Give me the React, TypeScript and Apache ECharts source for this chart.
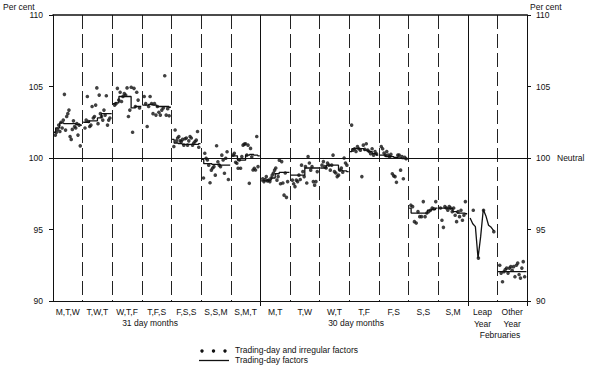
import React, { useEffect, useRef } from "react";
import * as echarts from "echarts";

const FONT = "'Liberation Sans', Arial, Helvetica, sans-serif";
const INK = "#111";

// Category (day-composition) labels along the bottom axis
const categories = [
  "M,T,W", "T,W,T", "W,T,F", "T,F,S", "F,S,S", "S,S,M", "S,M,T",
  "M,T", "T,W", "W,T", "T,F", "F,S", "S,S", "S,M",
  "Leap\nYear", "Other\nYear",
];
const groupLabels = ["31 day months", "30 day months", "Februaries"];
const yTicks = [90, 95, 100, 105, 110];

// Trading-day and irregular factors (dots), per category, left to right
const dotsMTW = [101.6, 101.8, 102.0, 102.3, 101.85, 102.5, 102.1, 102.65, 104.45, 101.95, 102.9, 103.1, 103.35, 101.5, 101.3, 102.0, 102.6, 102.2, 102.1, 102.4, 101.6, 102.3, 100.85];
const dotsTWT = [102.1, 102.65, 104.3, 102.55, 102.2, 102.3, 103.6, 102.8, 102.9, 103.7, 104.9, 102.4, 104.4, 103.1, 102.9, 102.65, 103.35, 103.0, 104.35, 102.3, 102.65, 102.8];
const dotsWTF = [103.7, 103.8, 104.87, 104.05, 104.6, 103.95, 104.3, 104.5, 104.4, 104.9, 102.9, 103.35, 104.95, 101.8, 104.87, 103.6, 104.6, 104.05, 103.5];
const dotsTFS = [104.3, 103.8, 102.2, 103.6, 104.3, 103.8, 103.1, 103.8, 103.0, 103.6, 103.2, 103.0, 103.35, 103.5, 105.75, 103.0, 103.45, 102.95];
const dotsFSS = [100.8, 101.96, 101.2, 101.4, 101.5, 101.2, 101.15, 101.3, 100.9, 101.35, 101.4, 100.9, 101.2, 101.5, 101.4, 100.9, 101.05, 101.15, 101.25, 101.85, 100.75];
const dotsSSM = [98.6, 100.33, 99.98, 99.86, 99.5, 98.27, 99.15, 99.3, 99.4, 98.8, 100.86, 99.74, 99.5, 99.4, 100.2, 99.86, 98.93, 99.98, 100.44, 98.5];
const dotsSMT = [100.2, 100.33, 99.7, 99.63, 99.28, 99.86, 99.28, 100.1, 100.9, 100.97, 101.0, 100.2, 100.9, 98.23, 100.67, 100.09, 99.16, 99.28, 99.16, 101.5, 99.4];
const dotsMT = [98.55, 98.35, 98.5, 98.7, 98.4, 98.45, 98.35, 98.6, 98.8, 98.95, 99.15, 99.3, 98.45, 98.7, 99.85, 98.2, 99.75, 98.25, 97.4, 98.95, 97.25, 98.35];
const dotsTW = [98.45, 98.2, 98.0, 98.45, 98.35, 98.8, 98.5, 99.5, 99.05, 98.7, 99.4, 98.25, 100.1, 99.65, 99.15, 99.4, 98.35, 98.1, 98.35, 99.05];
const dotsWT = [99.5, 99.75, 99.4, 99.3, 99.65, 99.5, 99.15, 99.5, 100.2, 99.05, 98.95, 98.7, 98.8, 99.15, 99.3, 99.0, 100.0, 99.65, 99.5];
const dotsTF = [102.3, 100.55, 100.65, 100.45, 100.8, 100.65, 100.55, 98.7, 100.9, 100.6, 101.0, 100.55, 100.45, 100.3, 100.65, 100.2, 100.45, 100.3];
const dotsFS = [100.8, 100.65, 100.35, 100.2, 100.45, 100.2, 100.1, 100.25, 98.9, 98.75, 98.7, 98.3, 100.2, 100.2, 99.15, 100.1, 98.55, 100.05, 99.95];
const dotsSS = [96.7, 96.6, 95.55, 95.45, 96.25, 95.9, 95.9, 96.95, 95.9, 96.15, 96.25, 96.35, 96.5, 96.45, 96.95];
const dotsSM = [96.5, 95.65, 95.15, 96.6, 96.5, 96.35, 96.6, 96.5, 96.25, 96.5, 96.0, 95.55, 96.25, 95.9, 96.35, 95.65, 96.0, 96.95];
const dotsLeap = [null, 96.35, null, 93.0, null, 96.35, null, null, null, 94.85];
const dotsOther = [92.5, 91.95, 91.35, 92.05, 92.2, 92.3, 91.95, 92.3, 92.4, 92.15, 92.4, 91.7, 92.5, 92.65, 91.85, 91.6, 92.3, 92.75, 91.7];

// Trading-day factors (line), per category
const lineMTW = [101.8, 102.1, 102.45, 102.4, 102.4, 102.4, 102.35, 102.3];
const lineTWT = [102.5, 102.5, 102.6, 102.6, 102.8, 103.1, 103.1, 103.1];
const lineWTF = [103.8, 103.85, 104.3, 104.3, 104.3, 103.5, 103.6, 103.6];
const lineTFS = [103.7, 103.7, 103.75, 103.7, 103.6, 103.6, 103.6, 103.55];
const lineFSS = [101.3, 101.05, 101.0, 100.95, 100.95, 100.95, 100.95, 101.0];
const lineSSM = [99.9, 99.6, 99.6, 99.55, 99.55, 99.5, 99.5, 99.5];
const lineSMT = [100.15, 100.15, 99.85, 99.85, 100.2, 100.25, 100.2, 100.15];
const lineMT = [98.4, 98.4, 98.45, 98.6, 98.9, 99.0, 99.0, 99.0];
const lineTW = [98.8, 98.8, 98.8, 98.8, 99.3, 99.3, 99.3, 99.3];
const lineWT = [99.3, 99.3, 99.5, 99.5, 99.5, 99.15, 99.1, 99.05];
const lineTF = [100.45, 100.65, 100.65, 100.65, 100.55, 100.45, 100.3, 100.2];
const lineFS = [100.2, 100.2, 100.1, 100.1, 100.05, 100.0, 99.95, 99.95];
const lineSS = [96.5, 96.15, 96.15, 96.15, 96.15, 96.35, 96.4, 96.5];
const lineSM = [96.5, 96.5, 96.5, 96.45, 96.25, 96.15, 96.15, 96.1];
const lineLeap = [95.8, 95.4, 95.2, 93.0, 94.5, 96.4, 95.95, 95.3, 95.15, 94.9];
const lineOther = [92.05, 92.05, 92.05, 92.05, 92.05, 92.05, 92.05, 92.05];

const dotSets = [dotsMTW, dotsTWT, dotsWTF, dotsTFS, dotsFSS, dotsSSM, dotsSMT, dotsMT, dotsTW, dotsWT, dotsTF, dotsFS, dotsSS, dotsSM, dotsLeap, dotsOther];
const lineSets = [lineMTW, lineTWT, lineWTF, lineTFS, lineFSS, lineSSM, lineSMT, lineMT, lineTW, lineWT, lineTF, lineFS, lineSS, lineSM, lineLeap, lineOther];
const LEAP = 14;

function spread(c: number, n: number, a: number, b: number, i: number) {
  return n <= 1 ? c + 0.5 : c + a + (b - a) * (i / (n - 1));
}

function buildOption() {
  const scatterData: number[][] = [];
  dotSets.forEach((vals, c) => {
    const isLeap = c === LEAP;
    vals.forEach((v, i) => {
      if (v == null) return;
      const x = isLeap ? spread(c, vals.length, 0.1, 0.88, i) : spread(c, vals.length, 0.08, 0.92, i);
      scatterData.push([x, v as number]);
    });
  });

  const lineSeries = lineSets.map((vals, c) => {
    const isLeap = c === LEAP;
    return {
      type: "line",
      xAxisIndex: 1,
      yAxisIndex: 0,
      step: isLeap ? false : "middle",
      symbol: "none",
      silent: true,
      lineStyle: { color: INK, width: 1.3 },
      data: vals.map((v, i) => [
        isLeap ? spread(c, vals.length, 0.08, 0.88, i) : spread(c, vals.length, 0.02, 0.98, i),
        v,
      ]),
      z: 3,
    };
  });

  const textStyle = { fontFamily: FONT, fontSize: 8.5, fill: INK };

  return {
    animation: false,
    grid: { left: 53, right: 64, top: 15, bottom: 67, containLabel: false },
    xAxis: [
      {
        type: "category",
        data: categories,
        position: "bottom",
        boundaryGap: true,
        axisLine: { show: true, onZero: false, lineStyle: { color: INK, width: 1 } },
        axisTick: {
          show: true,
          length: 5,
          inside: false,
          interval: (i: number) => i === 7 || i === 14,
          lineStyle: { color: INK, width: 1 },
        },
        axisLabel: { interval: 0, fontSize: 8.5, color: INK, lineHeight: 12, margin: 5, fontFamily: FONT },
        splitLine: {
          show: true,
          interval: (i: number) => i !== 0 && i !== 7 && i !== 14,
          lineStyle: { type: [14, 5], color: "#222", width: 1 },
        },
      },
      {
        type: "value",
        min: 0,
        max: 16,
        position: "top",
        axisLine: { show: true, onZero: false, lineStyle: { color: INK, width: 1.5 } },
        axisTick: { show: false },
        axisLabel: { show: false },
        splitLine: { show: false },
      },
    ],
    yAxis: [0, 1].map((k) => ({
      type: "value",
      min: yTicks[0],
      max: yTicks[yTicks.length - 1],
      interval: yTicks[1] - yTicks[0],
      position: k === 0 ? "left" : "right",
      axisLine: { show: true, onZero: false, lineStyle: { color: INK, width: 1 } },
      axisTick: { show: true, length: 4, inside: false, lineStyle: { color: INK } },
      axisLabel: { fontSize: 8.5, color: INK, fontFamily: FONT, margin: k === 0 ? 10 : 9 },
      splitLine: { show: false },
    })),
    series: [
      {
        type: "scatter",
        xAxisIndex: 1,
        yAxisIndex: 0,
        symbol: "circle",
        symbolSize: 3.6,
        itemStyle: { color: INK },
        silent: true,
        data: scatterData,
        z: 4,
        markLine: {
          silent: true,
          symbol: "none",
          label: { show: false },
          lineStyle: { color: INK, width: 1, type: "solid" },
          data: [{ xAxis: 7 }, { xAxis: 14 }, { yAxis: 100 }],
        },
      },
      ...lineSeries,
    ],
    graphic: [
      { type: "text", left: 3, top: 2, style: { ...textStyle, text: "Per cent" } },
      { type: "text", left: 530, top: 2, style: { ...textStyle, text: "Per cent" } },
      { type: "text", left: 557, top: 153, style: { ...textStyle, text: "Neutral" } },
      { type: "text", x: 150, y: 323, style: { ...textStyle, text: groupLabels[0], align: "center", verticalAlign: "middle" } },
      { type: "text", x: 356, y: 323, style: { ...textStyle, text: groupLabels[1], align: "center", verticalAlign: "middle" } },
      { type: "text", x: 500, y: 335, style: { ...textStyle, text: groupLabels[2], align: "center", verticalAlign: "middle" } },
      { type: "circle", shape: { cx: 202, cy: 351, r: 1.7 }, style: { fill: INK } },
      { type: "circle", shape: { cx: 213.5, cy: 351, r: 1.7 }, style: { fill: INK } },
      { type: "circle", shape: { cx: 225, cy: 351, r: 1.7 }, style: { fill: INK } },
      { type: "line", shape: { x1: 199, y1: 360.5, x2: 229, y2: 360.5 }, style: { stroke: INK, lineWidth: 1.3 } },
      { type: "text", x: 235, y: 350, style: { ...textStyle, text: "Trading-day and irregular factors", verticalAlign: "middle" } },
      { type: "text", x: 235, y: 360, style: { ...textStyle, text: "Trading-day factors", verticalAlign: "middle" } },
    ],
  };
}

export default function App() {
  const ref = useRef<HTMLDivElement>(null);
  useEffect(() => {
    if (!ref.current) return;
    const chart = echarts.init(ref.current, undefined, { renderer: "svg" });
    chart.setOption(buildOption() as any);
    return () => chart.dispose();
  }, []);
  return (
    <div
      ref={ref}
      style={{ position: "fixed", left: 0, top: 0, width: 591, height: 368, background: "#fff" }}
    />
  );
}
